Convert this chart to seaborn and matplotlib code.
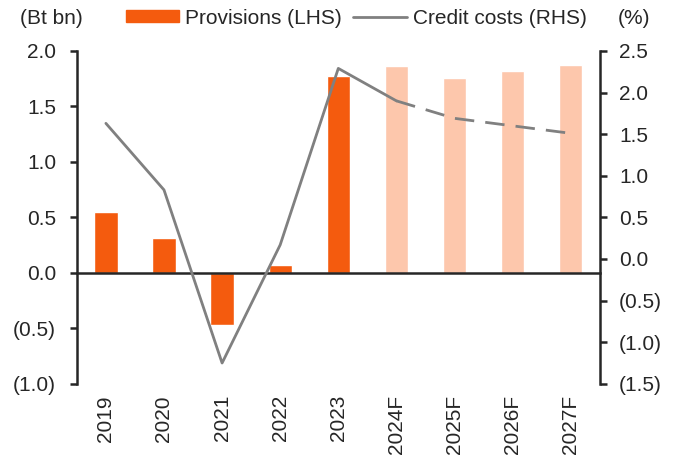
import numpy as np
import pandas as pd
import seaborn as sns
import matplotlib.pyplot as plt
from matplotlib.patches import Patch
from matplotlib.lines import Line2D

# datos del grafico
years = ["2019", "2020", "2021", "2022", "2023", "2024F", "2025F", "2026F", "2027F"]
provisions = [0.55, 0.31, -0.47, 0.07, 1.77, 1.86, 1.76, 1.82, 1.87]
credit_costs = [1.63, 0.83, -1.25, 0.17, 2.29, 1.90, 1.69, 1.60, 1.51]
left_ticks = [-1.0, -0.5, 0.0, 0.5, 1.0, 1.5, 2.0]
right_ticks = [-1.5, -1.0, -0.5, 0.0, 0.5, 1.0, 1.5, 2.0, 2.5]

orange = "#F45B0E"
light = "#FDC7AC"
grey = "#808080"

sns.set_style("white")
plt.rcParams["font.family"] = ["Liberation Sans", "DejaVu Sans"]
plt.rcParams["font.size"] = 15

def fmt(v):
    return f"({abs(v):.1f})" if v < 0 else f"{v:.1f}"

df = pd.DataFrame({"year": years, "prov": provisions, "cc": credit_costs})
df["pos"] = range(len(df))
colors = [orange if not y.endswith("F") else light for y in years]

fig, ax = plt.subplots(figsize=(6.8, 4.63), dpi=100)
fig.subplots_adjust(left=0.113, right=0.882, top=0.89, bottom=0.171)

sns.barplot(data=df, x="year", y="prov", hue="year", palette=colors, legend=False,
            width=0.4, saturation=1, ax=ax)
ax.set_xlim(-0.5, len(years) - 0.5)
ax.set_ylim(-1.0, 2.0)
ax.set_yticks(left_ticks)
ax.set_yticklabels([fmt(v) for v in left_ticks])
ax.set_xlabel("")
ax.set_ylabel("")

# eje x en cero con marcas entre categorias
ax.spines["top"].set_visible(False)
ax.spines["right"].set_visible(False)
ax.spines["bottom"].set_position(("data", 0))
ax.spines["bottom"].set_linewidth(1.8)
ax.spines["left"].set_linewidth(1.8)
ax.set_xticks(np.arange(0.5, len(years) - 1, 1), minor=True)
ax.tick_params(axis="x", which="minor", length=5, width=1.8, direction="out")
ax.tick_params(axis="x", which="major", length=0, pad=88, rotation=90)
ax.tick_params(axis="y", length=5, width=1.8, direction="out", pad=10)

ax2 = ax.twinx()
solid = df.iloc[:6]
dashed = df.iloc[5:]
sns.lineplot(x=solid["pos"], y=solid["cc"], color=grey, lw=2, ax=ax2)
sns.lineplot(x=dashed["pos"], y=dashed["cc"], color=grey, lw=2, ax=ax2, dashes=False)
ax2.lines[-1].set_dashes((7, 4))
ax2.set_ylim(-1.5, 2.5)
ax2.set_yticks(right_ticks)
ax2.set_yticklabels([fmt(v) for v in right_ticks])
ax2.set_ylabel("")
ax2.set_xlabel("")
for s in ["top", "bottom", "left"]:
    ax2.spines[s].set_visible(False)
ax2.spines["right"].set_linewidth(1.8)
ax2.tick_params(axis="y", length=5, width=1.8, direction="out", pad=9)

fig.text(0.03, 0.961, "(Bt bn)", ha="left", va="center")
fig.text(0.908, 0.961, "(%)", ha="left", va="center")
handles = [Patch(color=orange), Line2D([0], [0], color=grey, lw=2)]
fig.legend(handles, ["Provisions (LHS)", "Credit costs (RHS)"], ncol=2, frameon=False,
           loc="center", bbox_to_anchor=(0.524, 0.961), handlelength=2.55, handleheight=0.5,
           columnspacing=0.55, handletextpad=0.3, borderaxespad=0, borderpad=0)

plt.savefig("out.png", dpi=100)
